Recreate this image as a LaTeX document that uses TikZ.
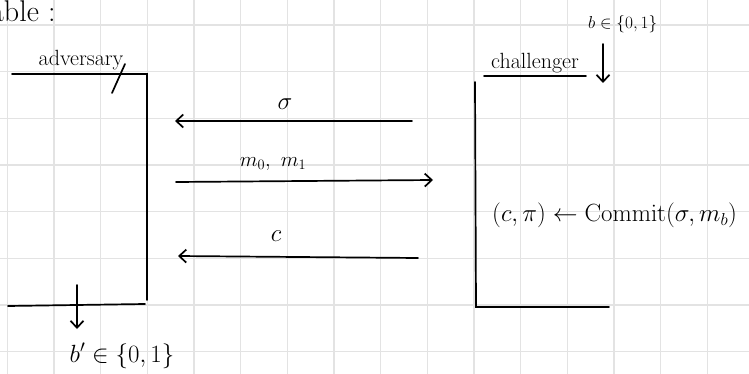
\documentclass[tikz,border=0pt]{standalone}
\usetikzlibrary{arrows.meta}
\begin{document}
\begin{tikzpicture}[x=1pt,y=-1pt,
  gridline/.style={draw=black!11,line width=1.2pt},
  ink/.style={draw=black,line width=1.7pt,line cap=round},
  msg/.style={ink,-{Straight Barb[length=7pt,width=13pt,line width=1.7pt]}},
  lbl/.style={inner sep=0pt,font=\fontsize{22}{26}\selectfont},
  big/.style={inner sep=0pt,font=\fontsize{25}{30}\selectfont}]
\useasboundingbox (0,0) rectangle (749,374);
\fill[white] (0,0) rectangle (749,374);
% grid
\foreach \k in {0,...,15} \draw[gridline] (7.33+46.67*\k,0) -- (7.33+46.67*\k,374);
\foreach \k in {0,...,7} \draw[gridline] (0,25+46.67*\k) -- (749,25+46.67*\k);
% title (clipped at left)
\node[inner sep=0pt,font=\fontsize{30}{36}\selectfont,anchor=base west] (title) at (-10,22) {able :};
% adversary
\node[lbl,anchor=base] (adv) at (81,66) {adversary};
\coordinate (atl) at (12,74);
\coordinate (atr) at (147,74);
\coordinate (abr) at (147,300);
\coordinate (abl) at (8,306);
\coordinate (abe) at (145,304);
\draw[ink] (atl) -- (atr) -- (abr);
\draw[ink] (abl) -- (abe);
\draw[ink] (125,64) -- (112,93);
\coordinate (bout0) at (77,285);
\node[inner sep=0pt,font=\fontsize{26}{30}\selectfont,anchor=base] (bout) at (122,362) {$b'\in\{0,1\}$};
\draw[msg] (bout0) -- (77,329) coordinate (bout1);
% challenger
\node[lbl,anchor=base] (chal) at (535,69) {challenger};
\coordinate (cul) at (484,76);
\coordinate (cur) at (586,76);
\draw[ink] (cul) -- (cur);
\coordinate (ctl) at (475,82);
\coordinate (cbl) at (476,307);
\coordinate (cbr) at (609,307);
\draw[ink] (ctl) -- (cbl) -- (cbr);
\node[inner sep=0pt,font=\fontsize{17}{20}\selectfont,anchor=base west] (bin) at (588,29) {$b\in\{0,1\}$};
\coordinate (bin0) at (603,44);
\coordinate (bin1) at (603,83);
\draw[msg] (bin0) -- (bin1);
\node[inner sep=0pt,font=\fontsize{26}{30}\selectfont,anchor=base west] (commit) at (492,222) {$(c,\pi)\leftarrow \mathrm{Commit}(\sigma,m_b)$};
% messages
\coordinate (s1) at (412,121);
\coordinate (s0) at (175,121);
\draw[msg] (s1) -- (s0);
\node[big] (sig) at (285,104) {$\sigma$};
\coordinate (m0) at (176,182);
\coordinate (m1) at (433,180);
\draw[msg] (m0) -- (m1);
\node[inner sep=0pt,font=\fontsize{22}{26}\selectfont] (mm) at (273,164) {$m_0,\ m_1$};
\coordinate (c1) at (418,258);
\coordinate (c0) at (178,256);
\draw[msg] (c1) -- (c0);
\node[big] (cc) at (276,236) {$c$};
\end{tikzpicture}
\end{document}
